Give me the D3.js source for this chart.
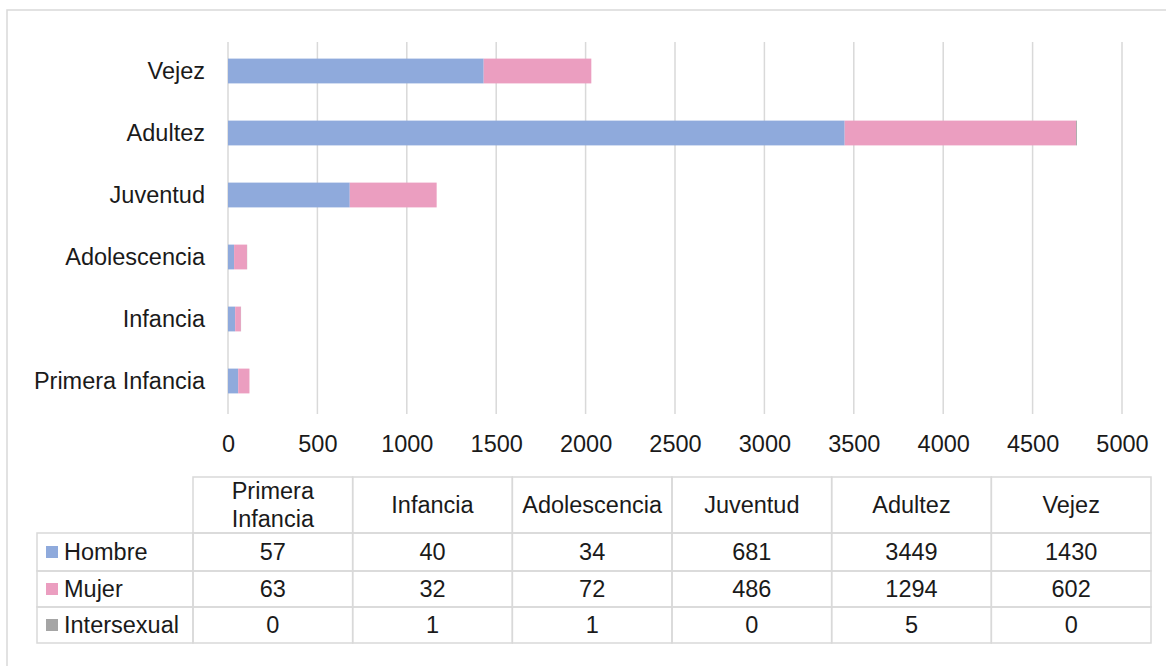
<!DOCTYPE html>
<html>
<head>
<meta charset="utf-8">
<script src="https://cdn.jsdelivr.net/npm/d3@7"></script>
<style>
  body { margin: 0; background: #fff; }
  svg { font-family: "Liberation Sans", Arial, sans-serif; }
  .grid line { stroke: #d9d9d9; stroke-width: 1.5; }
  .cell { fill: none; stroke: #d9d9d9; stroke-width: 1.5; }
  text { fill: #1a1a1a; }
</style>
</head>
<body>
<div id="chart"></div>
<script>
// data, in table order
const categories = ['Primera Infancia', 'Infancia', 'Adolescencia', 'Juventud', 'Adultez', 'Vejez'];
const headerLines = [['Primera', 'Infancia'], ['Infancia'], ['Adolescencia'], ['Juventud'], ['Adultez'], ['Vejez']];
const seriesNames = ['Hombre', 'Mujer', 'Intersexual'];
const hombre = [57, 40, 34, 681, 3449, 1430];
const mujer = [63, 32, 72, 486, 1294, 602];
const intersexual = [0, 1, 1, 0, 5, 0];
const xTicks = [0, 500, 1000, 1500, 2000, 2500, 3000, 3500, 4000, 4500, 5000];
const colors = ['#8faadc', '#eb9ec0', '#a5a5a5'];

const values = [hombre, mujer, intersexual];
const rows = categories.map((c, i) => {
  const r = { cat: c };
  seriesNames.forEach((s, k) => r[s] = values[k][i]);
  return r;
});

const W = 1166, H = 666;
const FS = 23.5;
const svg = d3.select('#chart').append('svg').attr('width', W).attr('height', H);

// outer frame
svg.append('rect').attr('x', 7).attr('y', 10).attr('width', W + 20).attr('height', H + 20)
  .attr('fill', 'none').attr('stroke', '#d9d9d9').attr('stroke-width', 1.5);

const x = d3.scaleLinear().domain([0, 5000]).range([228, 1122]);
const y = d3.scaleBand().domain(categories.slice().reverse()).range([40, 412])
  .paddingInner(0.6).paddingOuter(0.3);

// gridlines
svg.append('g').attr('class', 'grid')
  .selectAll('line').data(xTicks).join('line')
  .attr('x1', d => x(d)).attr('x2', d => x(d))
  .attr('y1', 42).attr('y2', 414);

// stacked bars
const stack = d3.stack().keys(seriesNames)(rows);
svg.append('g').selectAll('g').data(stack).join('g')
  .attr('fill', (d, i) => colors[i])
  .selectAll('rect').data(d => d).join('rect')
  .attr('x', d => x(d[0]))
  .attr('width', d => x(d[1]) - x(d[0]))
  .attr('y', d => y(d.data.cat))
  .attr('height', y.bandwidth());

// category labels
const yAxis = svg.append('g').attr('transform', 'translate(205,0)')
  .call(d3.axisLeft(y).tickSize(0).tickPadding(0));
yAxis.select('.domain').remove();
yAxis.selectAll('text').attr('font-size', FS).attr('fill', '#1a1a1a')
  .style('font-family', '"Liberation Sans", Arial, sans-serif');

// value ticks
const xAxis = svg.append('g').attr('transform', 'translate(0,435)')
  .call(d3.axisBottom(x).tickValues(xTicks).tickSize(0).tickPadding(0).tickFormat(d3.format('d')));
xAxis.select('.domain').remove();
xAxis.selectAll('text').attr('font-size', FS).attr('fill', '#1a1a1a')
  .style('font-family', '"Liberation Sans", Arial, sans-serif');

// data table
const col = d3.scaleBand().domain(categories).range([193, 1151]);
const rowY = [477, 533, 571, 607, 643];
const legendX = 37;
const tbl = svg.append('g');

// header cells
categories.forEach((c, i) => {
  tbl.append('rect').attr('class', 'cell')
    .attr('x', col(c)).attr('y', rowY[0]).attr('width', col.bandwidth()).attr('height', rowY[1] - rowY[0]);
  const lines = headerLines[i];
  const cy = (rowY[0] + rowY[1]) / 2;
  lines.forEach((t, j) => {
    tbl.append('text').attr('x', col(c) + col.bandwidth() / 2)
      .attr('y', cy + (j - (lines.length - 1) / 2) * 28)
      .attr('dy', '0.35em').attr('text-anchor', 'middle').attr('font-size', FS).text(t);
  });
});

// series rows
seriesNames.forEach((s, k) => {
  const y0 = rowY[k + 1], y1 = rowY[k + 2], cy = (y0 + y1) / 2;
  tbl.append('rect').attr('class', 'cell')
    .attr('x', legendX).attr('y', y0).attr('width', 193 - legendX).attr('height', y1 - y0);
  tbl.append('rect').attr('x', 46).attr('y', cy - 6).attr('width', 12).attr('height', 12).attr('fill', colors[k]);
  tbl.append('text').attr('x', 64).attr('y', cy).attr('dy', '0.35em').attr('font-size', FS).text(s);
  categories.forEach((c, i) => {
    tbl.append('rect').attr('class', 'cell')
      .attr('x', col(c)).attr('y', y0).attr('width', col.bandwidth()).attr('height', y1 - y0);
    tbl.append('text').attr('x', col(c) + col.bandwidth() / 2).attr('y', cy)
      .attr('dy', '0.35em').attr('text-anchor', 'middle').attr('font-size', FS).text(values[k][i]);
  });
});
</script>
</body>
</html>
